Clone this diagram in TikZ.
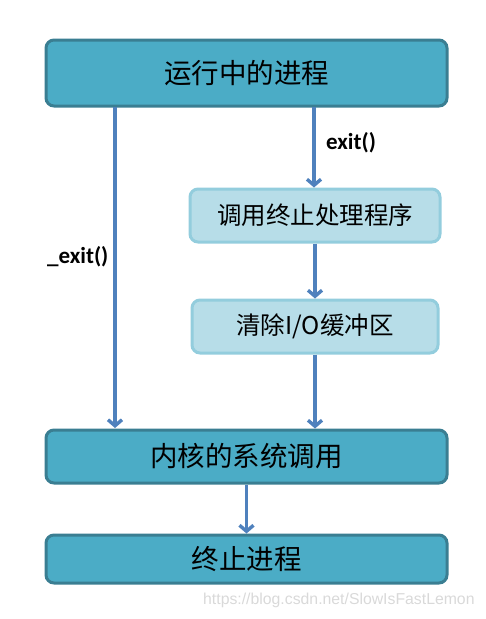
\documentclass[tikz,border=0pt]{standalone}
\usepackage{fontspec}
\setmainfont{Liberation Sans}
\newfontfamily\cjk{Noto Sans CJK SC}
\newfontfamily\lbl{Carlito}
\usetikzlibrary{arrows.meta}
\definecolor{darkfill}{HTML}{4BACC6}
\definecolor{darkline}{HTML}{3A7E92}
\definecolor{lightfill}{HTML}{B7DDE8}
\definecolor{lightline}{HTML}{93CDDD}
\definecolor{arrowc}{HTML}{4F81BD}
\tikzset{
  bigbox/.style={draw=darkline, fill=darkfill, line width=3pt, rounded corners=8pt, inner sep=0pt, font=\cjk\fontsize{27.5}{30}\selectfont, text=black},
  smallbox/.style={draw=lightline, fill=lightfill, line width=3pt, rounded corners=8pt, inner sep=0pt, font=\cjk\fontsize{24.5}{28}\selectfont, text=black},
  conn/.style={draw=arrowc, line width=3.6pt, -{Straight Barb[length=6pt,width=14pt,line width=3.4pt]}},
  lab/.style={font=\lbl\bfseries\fontsize{23}{26}\selectfont, text=black, inner sep=0pt},
}
\begin{document}
\begin{tikzpicture}[x=1pt,y=-1pt]
\useasboundingbox (0,0) rectangle (486,619);
\node[bigbox, minimum width=401pt, minimum height=66pt] (run) at (246.5,73) {运行中的进程};
\node[smallbox, minimum width=250pt, minimum height=53pt] (handler) at (315,215.5) {调用终止处理程序};
\node[smallbox, minimum width=246pt, minimum height=53pt] (flush) at (315,326.5) {清除I/O缓冲区};
\node[bigbox, minimum width=401pt, minimum height=53pt] (kernel) at (246.5,456.5) {内核的系统调用};
\node[bigbox, minimum width=401pt, minimum height=48pt] (term) at (246.5,559) {终止进程};
\coordinate (ls) at (115,107);
\coordinate (le) at (115,428);
\draw[conn] (ls) -- (le);
\draw[conn] (314,107) -- (handler.north -| 314,0);
\draw[conn] (handler.south) -- (flush.north);
\draw[conn] (flush.south) -- (kernel.north -| flush.south);
\draw[conn] (kernel.south) -- (term.north);
\node[lab, anchor=west] (exitl) at (326,143) {exit()};
\node[lab, anchor=west] (uexitl) at (47,257) {\_exit()};
\node[anchor=west, inner sep=0pt, text=black!15, font=\fontsize{15.8}{18}\selectfont] (wm) at (203,600) {https://blog.csdn.net/SlowIsFastLemon};
\end{tikzpicture}
\end{document}
